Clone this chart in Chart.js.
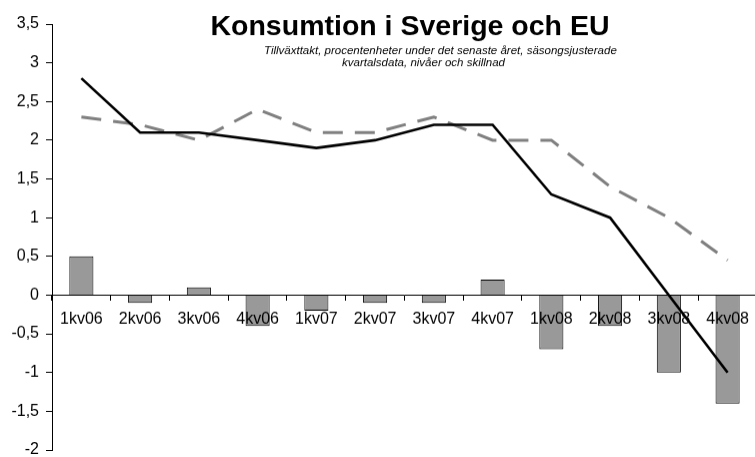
<!DOCTYPE html>
<html lang="sv">
<head>
    <meta charset="UTF-8">
    <title>Konsumtion i Sverige och EU</title>
    <script src="https://cdn.jsdelivr.net/npm/chart.js"></script>
    <style>
        body {
            margin: 0;
            background: #fff;
            overflow: hidden;
        }
        /* a little larger than the window so the plot reaches the edges */
        #wrap {
            width: 759px;
            height: 465.6px;
            position: relative;
        }
    </style>
</head>
<body>

    <div id="wrap"><canvas id="chart"></canvas></div>

    <script>
        // Quarters
        const quarters = ['1kv06', '2kv06', '3kv06', '4kv06', '1kv07', '2kv07',
                          '3kv07', '4kv07', '1kv08', '2kv08', '3kv08', '4kv08'];

        // Sweden (black line), EU (dashed grey line), difference (bars)
        const sverige = [2.8, 2.1, 2.1, 2.0, 1.9, 2.0, 2.2, 2.2, 1.3, 1.0, 0.0, -1.0];
        const eu = [2.3, 2.2, 2.0, 2.4, 2.1, 2.1, 2.3, 2.0, 2.0, 1.4, 1.0, 0.45];
        const skillnad = [0.5, -0.1, 0.1, -0.4, -0.2, -0.1, -0.1, 0.2, -0.7, -0.4, -1.0, -1.4];

        const yTicks = { min: -2, max: 3.5, step: 0.5 };

        const FONT = 'Arial, "Liberation Sans", sans-serif';

        // Title drawn on top of the plot, like the original
        const titlePlugin = {
            id: 'titleText',
            afterDraw(chart) {
                const ctx = chart.ctx;
                ctx.save();
                ctx.fillStyle = '#000';
                ctx.textBaseline = 'alphabetic';
                ctx.font = 'bold 28.5px ' + FONT;
                ctx.textAlign = 'center';
                ctx.fillText('Konsumtion i Sverige och EU', 410, 35);
                ctx.font = 'italic 11.5px ' + FONT;
                ctx.textAlign = 'left';
                ctx.fillText('Tillväxttakt, procentenheter under det senaste året, säsongsjusterade', 264, 54);
                ctx.fillText('kvartalsdata, nivåer och skillnad', 342, 66);
                ctx.restore();
            }
        };

        const ctx = document.getElementById('chart').getContext('2d');

        new Chart(ctx, {
            data: {
                labels: quarters,
                datasets: [
                    {
                        type: 'line',
                        label: 'EU',
                        data: eu,
                        borderColor: '#808080',
                        borderWidth: 3,
                        borderDash: [20, 12],
                        pointRadius: 0,
                        tension: 0,
                        fill: false,
                        order: 1
                    },
                    {
                        type: 'line',
                        label: 'Sverige',
                        data: sverige,
                        borderColor: '#000',
                        borderWidth: 2.6,
                        pointRadius: 0,
                        tension: 0,
                        fill: false,
                        order: 0
                    },
                    {
                        type: 'bar',
                        label: 'Skillnad',
                        data: skillnad,
                        backgroundColor: '#999999',
                        borderColor: '#000',
                        borderWidth: 1,
                        categoryPercentage: 1,
                        barPercentage: 0.41,
                        order: 2
                    }
                ]
            },
            options: {
                responsive: true,
                maintainAspectRatio: false,
                animation: false,
                layout: {
                    padding: { top: 24, bottom: 0, left: 0, right: 0 }
                },
                plugins: {
                    legend: { display: false },
                    tooltip: { enabled: false },
                    title: { display: false }
                },
                scales: {
                    x: {
                        position: { y: 0 },
                        offset: true,
                        afterFit(scale) { scale.height = 0; },
                        grid: {
                            offset: true,
                            drawOnChartArea: false,
                            drawTicks: true,
                            tickLength: 5,
                            color: '#000'
                        },
                        border: { color: '#000', width: 1, z: 1 },
                        ticks: {
                            z: 1,
                            color: '#000',
                            font: { family: FONT, size: 16 },
                            padding: 10,
                            maxRotation: 0,
                            autoSkip: false
                        }
                    },
                    y: {
                        min: yTicks.min,
                        max: yTicks.max,
                        afterFit(scale) { scale.width = 52; },
                        grid: {
                            drawOnChartArea: false,
                            drawTicks: true,
                            tickLength: 6,
                            color: '#000'
                        },
                        border: { color: '#000', width: 1 },
                        ticks: {
                            stepSize: yTicks.step,
                            color: '#000',
                            padding: 7,
                            font: { family: FONT, size: 16 },
                            callback: v => String(Math.round(v * 10) / 10).replace('.', ',')
                        }
                    }
                }
            },
            plugins: [titlePlugin]
        });
    </script>

</body>
</html>
